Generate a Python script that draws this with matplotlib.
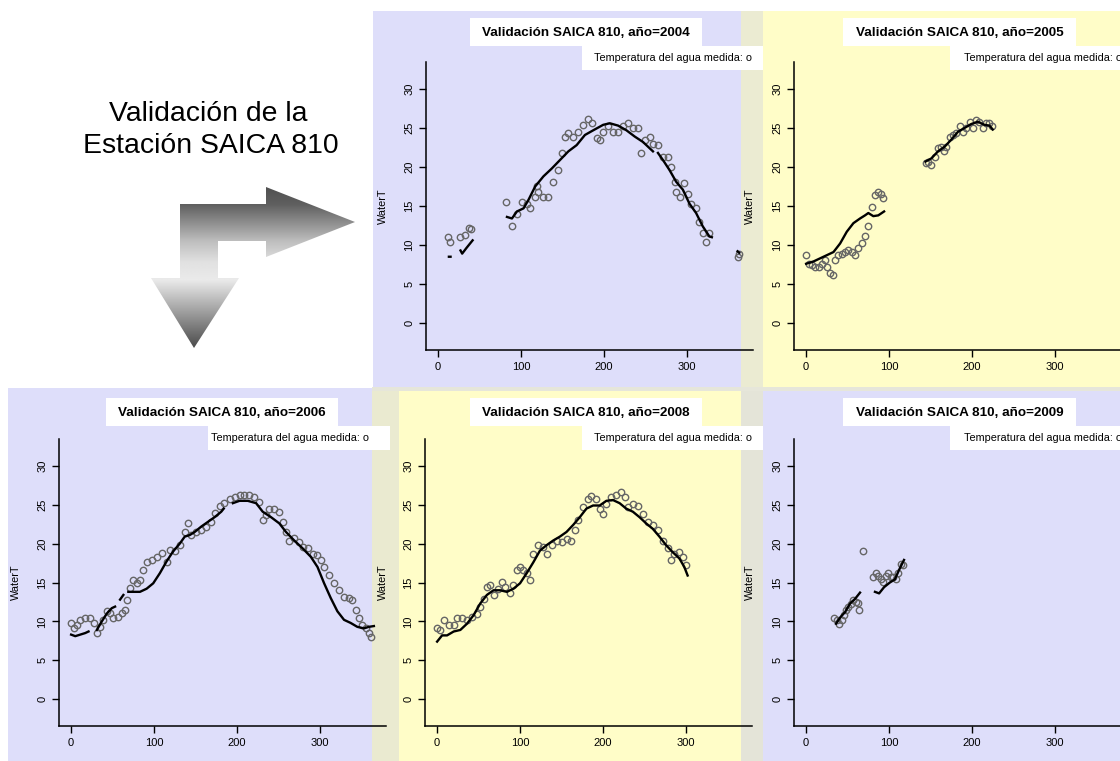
import numpy as np
import matplotlib.pyplot as plt
from matplotlib.patches import Rectangle, Polygon

plt.rcParams['font.family'] = ['Liberation Sans', 'DejaVu Sans']

nan = np.nan
W, H = 1120, 761

# observed water temperature (open circles), day of year / degC
obs_2004_day = [12, 14, 26, 33, 37, 40, 82, 89, 95, 101, 107, 111, 117, 119, 121, 127, 133, 139, 145, 149,
                153, 157, 163, 169, 175, 181, 185, 191, 195, 199, 205, 211, 217, 223, 229, 235, 241, 245,
                249, 255, 259, 265, 271, 277, 281, 285, 287, 291, 297, 301, 305, 311, 315, 319, 323, 327,
                361, 363]
obs_2004_temp = [11.0, 10.4, 11.0, 11.3, 12.2, 12.0, 15.5, 12.4, 14.0, 15.5, 15.3, 14.7, 16.2, 17.5, 16.8,
                 16.2, 16.2, 18.1, 19.6, 21.8, 23.9, 24.3, 23.9, 24.5, 25.4, 26.2, 25.6, 23.7, 23.5, 24.5,
                 25.2, 24.5, 24.5, 25.2, 25.6, 25.0, 25.0, 21.8, 23.5, 23.9, 23.0, 22.8, 21.3, 21.3, 20.0,
                 18.1, 16.8, 16.2, 17.9, 16.6, 15.3, 14.7, 13.0, 11.5, 10.4, 11.5, 8.5, 8.9]
# modelled water temperature (black line), nan = gap
mod_2004_day = [13, 15, nan, 27, 29, 34, 41.6, nan, 83, 89, 95, 103, 109, 117, 127, 137, 147, 157, 167, 177,
                187, 199, 207, 217, 227, 237, 247, 259, nan, 265, 271, 279, 287, 295, 303, 311, 319, 327,
                330, nan, 361, 363]
mod_2004_temp = [8.5, 8.5, nan, 9.3, 8.9, 9.6, 10.6, nan, 13.6, 13.4, 14.3, 14.7, 15.8, 17.5, 18.8, 19.8,
                 20.9, 22.0, 22.8, 24.1, 24.7, 25.4, 25.6, 25.3, 24.7, 23.9, 23.2, 22.0, nan, 21.8, 20.9,
                 19.6, 18.1, 17.1, 15.3, 14.1, 12.4, 11.1, 11.0, nan, 9.2, 9.0]

obs_2005_day = [0, 3, 7, 11, 15, 19, 23, 25, 29, 32, 35, 39, 43, 47, 51, 55, 59, 63, 67, 71, 75, 79, 83, 87,
                90, 93, 144, 147, 151, 155, 159, 163, 166, 169, 173, 177, 181, 185, 189, 193, 197, 201,
                205, 209, 213, 217, 221, 224]
obs_2005_temp = [8.7, 7.6, 7.4, 7.2, 7.2, 7.6, 8.1, 7.2, 6.4, 6.2, 8.1, 8.7, 8.9, 9.1, 9.4, 9.1, 8.7, 9.6,
                 10.2, 11.1, 12.4, 14.9, 16.4, 16.8, 16.6, 16.0, 20.5, 20.7, 20.3, 21.3, 22.4, 22.6, 22.0,
                 22.6, 23.9, 24.1, 24.3, 25.2, 24.5, 25.0, 25.8, 25.0, 26.0, 25.8, 25.0, 25.6, 25.6, 25.2]
mod_2005_day = [0, 9, 17, 25, 33, 41, 49, 57, 65, 71, 75, 81, 87, 94, nan, 144, 151, 159, 167, 175, 183,
                191, 199, 207, 215, 221, 225]
mod_2005_temp = [7.6, 7.9, 8.3, 8.7, 9.1, 10.2, 11.7, 12.8, 13.4, 13.8, 14.1, 13.7, 13.8, 14.3, nan, 20.7,
                 21.1, 22.0, 22.6, 23.5, 24.5, 25.0, 25.5, 25.8, 25.4, 25.3, 24.8]

obs_2006_day = [0, 3, 7, 11, 17, 23, 28, 31, 35, 39, 43, 47, 51, 57, 61, 65, 67, 71, 75, 79, 83, 87, 91, 97,
                103, 109, 115, 119, 125, 131, 137, 141, 145, 151, 157, 163, 169, 173, 179, 184, 191, 197,
                203, 209, 215, 221, 227, 231, 235, 239, 245, 251, 255, 259, 263, 269, 275, 279, 285, 291,
                297, 301, 305, 311, 317, 323, 329, 335, 339, 343, 347, 351, 355, 359, 362]
obs_2006_temp = [9.8, 9.1, 9.6, 10.2, 10.4, 10.4, 9.8, 8.5, 9.3, 10.2, 11.3, 11.1, 10.4, 10.6, 11.1, 11.5,
                 12.8, 14.3, 15.3, 14.9, 15.3, 16.6, 17.7, 17.9, 18.3, 18.8, 17.7, 19.2, 19.0, 19.8, 21.5,
                 22.6, 21.1, 21.5, 21.7, 22.2, 22.8, 23.9, 24.9, 25.2, 25.8, 26.0, 26.2, 26.2, 26.2, 26.0,
                 25.4, 23.0, 23.7, 24.5, 24.5, 24.1, 22.8, 21.5, 20.4, 20.7, 20.2, 19.6, 19.4, 18.7, 18.5,
                 17.9, 17.0, 16.0, 14.9, 14.0, 13.2, 13.0, 12.8, 11.5, 10.4, 9.5, 9.1, 8.5, 8.0]
mod_2006_day = [0, 5, 11, 17, 21, nan, 31, 37, 43, 49, 53, nan, 59, 63, nan, 69, 75, 83, 91, 99, 107, 115,
                123, 131, 137, 143, 149, 157, 165, 173, 181, 184, nan, 195, 203, 213, 223, 231, 241, 251,
                259, 269, 279, 289, 297, 305, 313, 321, 329, 337, 345, 353, 359, 365]
mod_2006_temp = [8.3, 8.1, 8.3, 8.5, 8.7, nan, 8.9, 10.0, 11.0, 11.7, 11.9, nan, 12.8, 13.4, nan, 13.8,
                 13.8, 13.8, 14.2, 14.9, 16.2, 17.7, 19.0, 20.0, 20.9, 21.1, 21.5, 22.2, 22.8, 23.4, 24.1,
                 24.5, nan, 25.2, 25.5, 25.5, 25.2, 24.1, 23.4, 22.6, 21.5, 20.4, 19.4, 18.3, 17.0, 14.9,
                 13.0, 11.3, 10.2, 9.8, 9.3, 9.1, 9.3, 9.4]

obs_2008_day = [0, 4, 8, 14, 20, 24, 30, 36, 42, 48, 52, 56, 60, 64, 68, 74, 78, 82, 88, 92, 96, 100, 104,
                108, 112, 116, 122, 128, 132, 138, 144, 150, 156, 162, 166, 170, 176, 182, 186, 192, 196,
                200, 204, 210, 216, 222, 226, 230, 236, 242, 248, 254, 260, 266, 272, 278, 282, 286, 292,
                296, 300]
obs_2008_temp = [9.1, 8.9, 10.2, 9.5, 9.5, 10.4, 10.4, 10.2, 10.6, 11.0, 11.9, 12.9, 14.4, 14.7, 13.4,
                 14.2, 15.1, 14.4, 13.6, 14.7, 16.6, 17.0, 16.6, 16.2, 15.3, 18.7, 19.8, 19.6, 18.7, 19.8,
                 20.4, 20.2, 20.6, 20.4, 21.7, 23.0, 24.7, 25.8, 26.1, 25.8, 24.5, 23.8, 25.1, 26.0, 26.2,
                 26.6, 26.0, 24.7, 25.1, 24.9, 23.8, 22.8, 22.4, 21.7, 20.4, 19.4, 17.9, 18.7, 18.9, 18.3,
                 17.2]
mod_2008_day = [0, 6, 12, 20, 28, 36, 44, 52, 60, 68, 76, 84, 92, 100, 108, 116, 124, 132, 140, 148, 156,
                164, 172, 180, 188, 196, 204, 212, 220, 228, 236, 244, 252, 260, 268, 276, 284, 292, 298,
                302]
mod_2008_temp = [7.4, 8.2, 8.2, 8.7, 8.9, 9.7, 10.8, 12.3, 13.4, 14.0, 14.0, 13.8, 14.2, 14.9, 16.2, 17.6,
                 19.1, 19.8, 20.4, 20.9, 21.5, 22.4, 23.4, 24.5, 24.9, 24.9, 25.5, 25.6, 25.2, 24.5, 24.1,
                 23.4, 22.6, 21.9, 20.9, 19.8, 18.9, 18.1, 17.0, 15.9]

obs_2009_day = [34, 37, 40, 43, 46, 48, 51, 54, 57, 60, 63, 64, 68, 81, 84, 87, 90, 93, 96, 99, 102, 105,
                108, 111, 114, 117]
obs_2009_temp = [10.5, 10.2, 9.7, 10.2, 10.8, 11.5, 11.9, 12.3, 12.7, 12.5, 12.4, 11.5, 19.1, 15.7, 16.2,
                 15.9, 15.4, 15.1, 15.9, 16.2, 15.7, 15.7, 15.4, 16.2, 17.4, 17.2]
mod_2009_day = [36, 41, 47, 53, 59, 65, nan, 83, 88, 94, 101, 107, 112, 118]
mod_2009_temp = [9.7, 10.5, 11.2, 12.3, 12.9, 13.7, nan, 13.8, 13.6, 14.4, 15.0, 15.4, 16.6, 17.9]

years = [2004, 2005, 2006, 2008, 2009]
x_ticks = [0, 100, 200, 300]
y_ticks = [0, 5, 10, 15, 20, 25, 30]

LAV = '#DEDEFA'
YEL = '#FFFDC8'

fig = plt.figure(figsize=(11.2, 7.61), dpi=100)
bg = fig.add_axes([0, 0, 1, 1])
bg.set_xlim(0, W)
bg.set_ylim(H, 0)
bg.axis('off')


def box(x0, y0, x1, y1, color):
    bg.add_patch(Rectangle((x0, y0), x1 - x0, y1 - y0, facecolor=color, edgecolor='none'))


# panel backgrounds
box(373, 11, 741, 387, LAV)
box(741, 11, 763, 387, '#EBEBD2')
box(763, 11, 1120, 387, YEL)
box(372, 387, 1120, 391, '#E6E6DA')
box(8, 388, 372, 761, LAV)
box(372, 391, 399, 761, '#EAEAD0')
box(399, 391, 741, 761, YEL)
box(741, 391, 763, 761, '#E4E4D8')
box(763, 391, 1120, 761, LAV)

# gradient bent arrow
outline = [(180, 204), (266, 204), (266, 187), (355, 222), (266, 257), (266, 241), (218, 241),
           (218, 278), (239, 278), (194, 348), (151, 278), (180, 278)]
arrow = Polygon(outline, closed=True, facecolor='none', edgecolor='none')
bg.add_patch(arrow)
yy = np.arange(187, 349)
shade = np.interp(yy, [187, 204, 241, 262, 280, 348], [80, 95, 190, 225, 234, 75]) / 255.0
grad = np.repeat(shade[:, None], 2, axis=1)
im = bg.imshow(grad, cmap='gray', vmin=0, vmax=1, extent=[151, 355, 348, 187], aspect='auto',
               interpolation='bilinear')
im.set_clip_path(arrow)
bg.set_xlim(0, W)
bg.set_ylim(H, 0)

bg.text(208, 121, 'Validación de la', ha='center', va='baseline', fontsize=20.4)
bg.text(211, 153, 'Estación SAICA 810', ha='center', va='baseline', fontsize=20.4)

# layout of each panel (pixel positions)
axis_left = [426, 794, 59, 425, 794]
axis_bottom = [350, 350, 726, 726, 726]
axis_top = [62, 62, 439, 439, 439]
title_box = [(470, 18, 702, 46), (843, 18, 1076, 46), (106, 398, 338, 426),
             (470, 398, 702, 426), (843, 398, 1076, 426)]
legend_box = [(582, 46, 763, 70), (950, 46, 1120, 70), (208, 426, 390, 450),
              (582, 426, 763, 450), (950, 426, 1120, 450)]
legend_x = [594, 964, 211, 594, 964]
ylabel_x = [383, 750, 16, 383, 750]

obs_days = [obs_2004_day, obs_2005_day, obs_2006_day, obs_2008_day, obs_2009_day]
obs_temps = [obs_2004_temp, obs_2005_temp, obs_2006_temp, obs_2008_temp, obs_2009_temp]
mod_days = [mod_2004_day, mod_2005_day, mod_2006_day, mod_2008_day, mod_2009_day]
mod_temps = [mod_2004_temp, mod_2005_temp, mod_2006_temp, mod_2008_temp, mod_2009_temp]

for i, yr in enumerate(years):
    x0, y0, x1, y1 = title_box[i]
    box(x0, y0, x1, y1, 'white')
    bg.text((x0 + x1) / 2, (y0 + y1) / 2 + 0.5, 'Validación SAICA 810, año=%d' % yr,
            ha='center', va='center', fontsize=9.7, fontweight='bold')
    x0, y0, x1, y1 = legend_box[i]
    box(x0, y0, x1, y1, 'white')
    bg.text(legend_x[i], (y0 + y1) / 2, 'Temperatura del agua medida: o',
            ha='left', va='center', fontsize=7.8, clip_on=True)
    yc = (axis_top[i] + axis_bottom[i]) / 2
    bg.text(ylabel_x[i], yc, 'WaterT', rotation=90, ha='center', va='center', fontsize=7.8)

for i, yr in enumerate(years):
    ax = fig.add_axes([axis_left[i] / W, (H - axis_bottom[i]) / H, 327 / W,
                       (axis_bottom[i] - axis_top[i]) / H])
    ax.patch.set_visible(False)
    ax.plot(obs_days[i], obs_temps[i], 'o', mfc='none', mec='#666666', ms=4.6, mew=1.0,
            clip_on=False)
    ax.plot(mod_days[i], mod_temps[i], color='black', lw=1.7, clip_on=False)
    ax.set_xlim(-14.6, 379.6)
    ax.set_ylim(-3.45, 33.45)
    ax.set_xticks(x_ticks)
    ax.set_yticks(y_ticks)
    ax.spines['top'].set_visible(False)
    ax.spines['right'].set_visible(False)
    for s in ['left', 'bottom']:
        ax.spines[s].set_linewidth(1.1)
    ax.tick_params(length=5, width=1.0, labelsize=8, pad=4)
    ax.tick_params(axis='y', labelrotation=90, pad=3.5)
    for lbl in ax.get_yticklabels():
        lbl.set_va('center')

fig.savefig('out.png', dpi=100)
